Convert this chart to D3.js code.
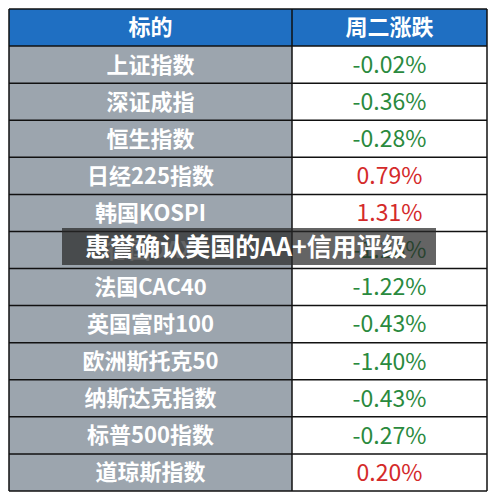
<!DOCTYPE html><html><head><meta charset="utf-8"><script src="https://cdn.jsdelivr.net/npm/d3@7"></script>
<style>body{margin:0;background:#fff}</style></head><body><svg id="c" width="500" height="500"></svg><script>
const headers=["标的","周二涨跌"];
const names=["上证指数","深证成指","恒生指数","日经225指数","韩国KOSPI","德国DAX","法国CAC40","英国富时100","欧洲斯托克50","纳斯达克指数","标普500指数","道琼斯指数"];
const changes=[-0.02,-0.36,-0.28,0.79,1.31,-1.26,-1.22,-0.43,-1.40,-0.43,-0.27,0.20];
const title="惠誉确认美国的AA+信用评级";
const svg=d3.select("#c");
const x0=9,x1=292,x2=487;
const y=d3.scaleBand().domain(d3.range(names.length+1)).range([9,491]);
const font="'Noto Sans CJK SC',sans-serif";
svg.append("rect").attr("x",x0).attr("y",y(0)).attr("width",x2-x0).attr("height",y.bandwidth()).attr("fill","#1f6fc2");
names.forEach((n,i)=>{
 svg.append("rect").attr("x",x0).attr("y",y(i+1)).attr("width",x1-x0).attr("height",y.bandwidth()).attr("fill","#9ca5ae");
 svg.append("rect").attr("x",x1).attr("y",y(i+1)).attr("width",x2-x1).attr("height",y.bandwidth()).attr("fill","#fff");
});
d3.range(names.length+2).forEach(i=>{const yy=i<=names.length?y(i):491;
 svg.append("line").attr("x1",x0).attr("x2",x2).attr("y1",yy).attr("y2",yy).attr("stroke","#111").attr("stroke-width",1.5);});
[x0,x1,x2].forEach(xx=>svg.append("line").attr("x1",xx).attr("x2",xx).attr("y1",9).attr("y2",491).attr("stroke","#111").attr("stroke-width",1.5));
headers.forEach((h,j)=>svg.append("text").attr("x",j?(x1+x2)/2:(x0+x1)/2).attr("y",y(0)+y.bandwidth()/2).attr("dy","0.36em").attr("text-anchor","middle").attr("font-family",font).attr("font-weight","bold").attr("font-size",22).attr("fill","#fff").text(h));
names.forEach((n,i)=>{
 svg.append("text").attr("x",(x0+x1)/2).attr("y",y(i+1)+y.bandwidth()/2).attr("dy","0.36em").attr("text-anchor","middle").attr("font-family",font).attr("font-weight","bold").attr("font-size",22).attr("fill","#fff").text(n);
 const v=changes[i];
 svg.append("text").attr("x",(x1+x2)/2).attr("y",y(i+1)+y.bandwidth()/2).attr("dy","0.36em").attr("text-anchor","middle").attr("font-family",font).attr("font-size",23).attr("fill",v>0?"#d42a2a":"#2a8a3e").text(v.toFixed(2)+"%");
});
svg.append("rect").attr("x",62).attr("y",228).attr("width",374).attr("height",37).attr("fill","rgba(40,40,40,0.72)");
svg.append("text").attr("x",246).attr("y",246.5).attr("dy","0.36em").attr("text-anchor","middle").attr("font-family",font).attr("font-weight","bold").attr("font-size",25).attr("fill","#fff").text(title);
</script></body></html>
